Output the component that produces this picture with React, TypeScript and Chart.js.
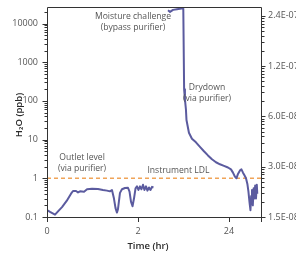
import React, { useEffect, useRef } from "react";
import { Chart, registerables } from "chart.js";

Chart.register(...registerables);

// Time axis is broken: position 0 = 0 hr, 1 = 2 hr, 2 = 24 hr
const timePos = [
  0.005, 0.033, 0.088, 0.121, 0.165, 0.216, 0.264, 0.286, 0.319, 0.341, 0.363, 0.407, 0.44, 0.495,
  0.56, 0.615, 0.659, 0.692, 0.714, 0.736, 0.753, 0.769, 0.78, 0.802, 0.824, 0.857, 0.89, 0.907,
  0.923, 0.94, 0.956, 0.973, 0.989, 1.005, 1.022, 1.038, 1.055, 1.071, 1.088, 1.104, 1.121, 1.137,
  1.154, 1.17,
  1.25,
  1.33, 1.352, 1.385, 1.429, 1.478, 1.498, 1.507, 1.516, 1.527, 1.533, 1.56, 1.593, 1.637,
  1.681, 1.725, 1.769, 1.813, 1.857, 1.901, 1.945, 1.989, 2.022, 2.044, 2.066, 2.082, 2.099, 2.121,
  2.137, 2.154, 2.17, 2.187, 2.203, 2.214, 2.225, 2.236, 2.244, 2.253, 2.262, 2.271, 2.279, 2.288,
  2.297, 2.306, 2.311,
];
const h2oPpb: (number | null)[] = [
  0.148, 0.135, 0.115, 0.14, 0.18, 0.26, 0.4, 0.47, 0.47, 0.43, 0.46, 0.45, 0.52, 0.54,
  0.53, 0.5, 0.48, 0.46, 0.5, 0.3, 0.17, 0.13, 0.16, 0.42, 0.52, 0.56, 0.57, 0.45,
  0.25, 0.19, 0.3, 0.55, 0.62, 0.5, 0.62, 0.52, 0.68, 0.5, 0.62, 0.48, 0.58, 0.5,
  0.6, 0.58,
  null,
  22000, 20000, 22500, 23500, 24500, 24500, 200, 110, 60, 32, 15, 10.5, 8.5,
  6.5, 5.0, 3.9, 3.1, 2.6, 2.3, 2.1, 1.9, 1.7, 1.4, 1.1, 1.0, 1.3, 1.6,
  1.7, 1.4, 1.2, 1.0, 0.7, 0.45, 0.25, 0.15, 0.35, 0.5, 0.2, 0.55, 0.3, 0.65,
  0.3, 0.68, 0.4,
];

const xTickPos = [0, 1, 2];
const xTickLabels = ["0", "2", "24"];
const leftTicks = [0.1, 1, 10, 100, 1000, 10000];
const leftTickLabels = ["0.1", "1", "10", "100", "1000", "10000"];
const rightTicks = [1.5e-8, 3.0e-8, 6.0e-8, 1.2e-7, 2.4e-7];
const rightTickLabels = ["1.5E-08", "3.0E-08", "6.0E-08", "1.2E-07", "2.4E-07"];
const ldlLevel = 1;

const annotationText = [
  ["Moisture challenge", "(bypass purifier)"],
  ["Drydown", "(via purifier)"],
  ["Outlet level", "(via purifier)"],
  ["Instrument LDL"],
];
const annotationX = [0.945, 1.758, 0.385, 1.445];
const annotationY = [15350, 224, 3.39, 1.56];

const X_MIN = 0;
const X_MAX = 2.352;
const Y_MIN = 0.1;
const Y_MAX = 26700;
const R_MIN = 1.5e-8;
const R_MAX = 2.71e-7;

const LINE = "#5b5b9f";
const ORANGE = "#f0a458";
const AXIS = "#333333";
const TEXT = "#555555";
const FONT = "'Open Sans', sans-serif";

const CW = 330;
const CH = 253;
const PLOT_TOP = 7;

const drawPlugin = {
  id: "customAxes",
  afterDraw(chart: any) {
    const ctx = chart.ctx as CanvasRenderingContext2D;
    const { left, right, top, bottom } = chart.chartArea;
    const sx = chart.scales.x;
    const sy = chart.scales.y;
    const sr = chart.scales.y2;
    ctx.save();
    ctx.strokeStyle = AXIS;
    ctx.lineWidth = 1;
    // frame
    ctx.beginPath();
    ctx.rect(Math.round(left) + 0.5, Math.round(top) + 0.5, Math.round(right - left), Math.round(bottom - top));
    ctx.stroke();
    const hline = (x1: number, x2: number, y: number) => {
      const yy = Math.round(y) + 0.5;
      ctx.beginPath();
      ctx.moveTo(x1, yy);
      ctx.lineTo(x2, yy);
      ctx.stroke();
    };
    const vline = (x: number, y1: number, y2: number) => {
      const xx = Math.round(x) + 0.5;
      ctx.beginPath();
      ctx.moveTo(xx, y1);
      ctx.lineTo(xx, y2);
      ctx.stroke();
    };
    const L = Math.round(left) + 0.5;
    const R = Math.round(right) + 0.5;
    // left ticks
    for (let e = -1; e <= 4; e++) {
      const d = Math.pow(10, e);
      for (let k = 1; k <= 9; k++) {
        const v = k * d;
        if (v < Y_MIN || v > Y_MAX) continue;
        const y = sy.getPixelForValue(v);
        hline(L - (k === 1 ? 5 : 3), L, y);
      }
    }
    // right ticks: majors + log-style minors between majors
    for (let i = 0; i < rightTicks.length; i++) {
      const yb = sr.getPixelForValue(rightTicks[i]);
      hline(R, R + 4, yb);
      const next = rightTicks[i] * 2;
      const yt = sr.getPixelForValue(next);
      for (let k = 2; k <= 9; k++) {
        const y = yb - (yb - yt) * Math.log10(k);
        if (y < top) continue;
        hline(R, R + 3, y);
      }
    }
    // x ticks
    for (const v of [...xTickPos, X_MAX]) {
      vline(sx.getPixelForValue(v), bottom, bottom + 5);
    }
    // annotations
    ctx.fillStyle = TEXT;
    ctx.font = `8.6px ${FONT}`;
    ctx.textAlign = "center";
    ctx.textBaseline = "middle";
    annotationText.forEach((lines, i) => {
      const x = sx.getPixelForValue(annotationX[i]);
      const y = sy.getPixelForValue(annotationY[i]);
      lines.forEach((t, j) => ctx.fillText(t, x, y + j * 11));
    });
    // axis titles
    ctx.fillStyle = "#2a2a2a";
    ctx.font = `600 9.5px ${FONT}`;
    ctx.fillText("Time (hr)", (left + right) / 2 - 6, bottom + 29);
    ctx.save();
    ctx.translate(19, (top + bottom) / 2 + 3);
    ctx.rotate(-Math.PI / 2);
    ctx.fillText("H₂O (ppb)", 0, 0);
    ctx.restore();
    ctx.restore();
  },
};

export default function App() {
  const ref = useRef<HTMLCanvasElement>(null);
  useEffect(() => {
    const canvas = ref.current!;
    const points = timePos.map((x, i) => ({ x, y: h2oPpb[i] }));
    const tickFont = { family: FONT, size: 9 };
    const chart = new Chart(canvas, {
      type: "line",
      data: {
        datasets: [
          {
            data: points as any,
            borderColor: LINE,
            borderWidth: 2,
            borderJoinStyle: "round",
            pointRadius: 0,
            tension: 0,
            spanGaps: false,
            order: 1,
            yAxisID: "y",
          },
          {
            data: [
              { x: X_MIN, y: ldlLevel },
              { x: X_MAX, y: ldlLevel },
            ] as any,
            borderColor: ORANGE,
            borderWidth: 1.5,
            borderDash: [4, 3],
            pointRadius: 0,
            order: 2,
            yAxisID: "y",
          },
        ],
      },
      options: {
        animation: false,
        responsive: false,
        devicePixelRatio: 1,
        layout: { padding: { top: 0, left: 0, right: 0, bottom: 0 } },
        plugins: { legend: { display: false }, tooltip: { enabled: false } },
        scales: {
          x: {
            type: "linear",
            min: X_MIN,
            max: X_MAX,
            afterBuildTicks: (s: any) => {
              s.ticks = xTickPos.map((v) => ({ value: v }));
            },
            afterFit: (s: any) => {
              s.height = 36;
            },
            grid: { display: true, drawOnChartArea: false, drawTicks: false },
            border: { display: false },
            ticks: {
              padding: 9,
              font: tickFont,
              color: TEXT,
              maxRotation: 0,
              autoSkip: false,
              callback: (v: any) => xTickLabels[xTickPos.indexOf(v)] ?? "",
            },
          },
          y: {
            type: "logarithmic",
            position: "left",
            min: Y_MIN,
            max: Y_MAX,
            afterBuildTicks: (s: any) => {
              s.ticks = leftTicks.map((v) => ({ value: v }));
            },
            afterFit: (s: any) => {
              s.width = 47;
              s.paddingTop = PLOT_TOP;
            },
            grid: { display: true, drawOnChartArea: false, drawTicks: false },
            border: { display: false },
            ticks: {
              padding: 9,
              font: tickFont,
              color: TEXT,
              autoSkip: false,
              callback: (v: any) => leftTickLabels[leftTicks.indexOf(v)] ?? "",
            },
          },
          y2: {
            type: "logarithmic",
            position: "right",
            display: true,
            min: R_MIN,
            max: R_MAX,
            afterBuildTicks: (s: any) => {
              s.ticks = rightTicks.map((v) => ({ value: v }));
            },
            afterFit: (s: any) => {
              s.width = CW - 261;
              s.paddingTop = PLOT_TOP;
            },
            grid: { display: true, drawOnChartArea: false, drawTicks: false },
            border: { display: false },
            ticks: {
              padding: 7,
              font: tickFont,
              color: TEXT,
              autoSkip: false,
              callback: (v: any) => rightTickLabels[rightTicks.indexOf(v)] ?? "",
            },
          },
        },
      },
      plugins: [drawPlugin],
    } as any);
    return () => chart.destroy();
  }, []);
  return (
    <div
      style={{
        position: "fixed",
        left: 0,
        top: 0,
        width: 296,
        height: 253,
        overflow: "hidden",
        background: "#ffffff",
      }}
    >
      <canvas ref={ref} width={CW} height={CH} style={{ display: "block" }} />
    </div>
  );
}
